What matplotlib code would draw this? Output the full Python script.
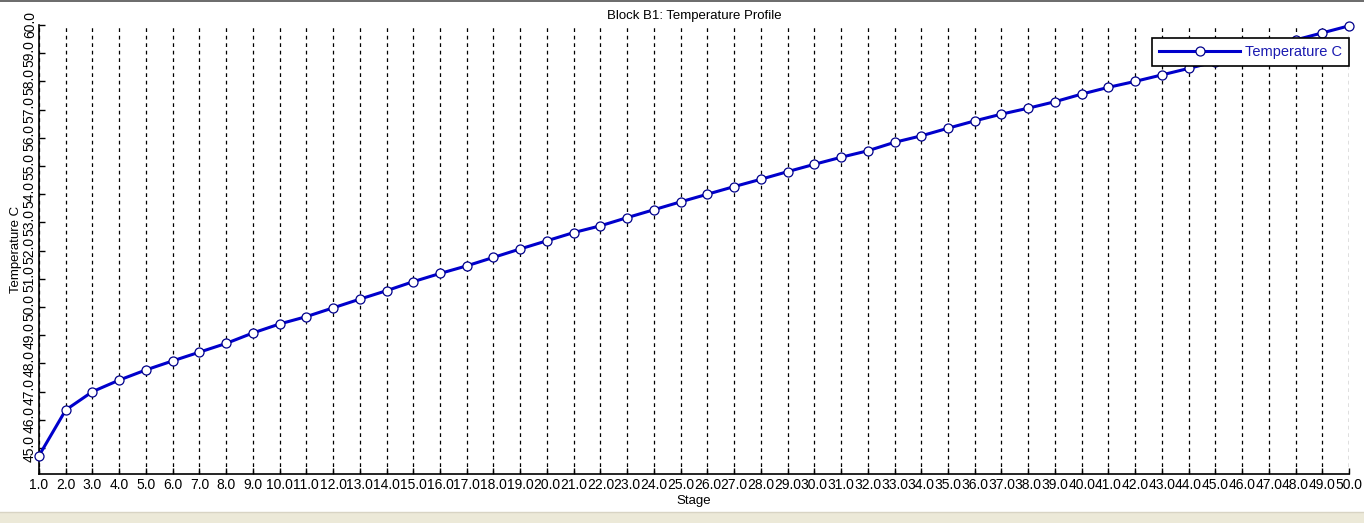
import matplotlib
matplotlib.use("Agg")
import matplotlib.pyplot as plt
from matplotlib.patches import Rectangle
from matplotlib.lines import Line2D

stages = list(range(1, 51))
temperature = [
    44.73, 46.35, 47.00, 47.41, 47.77, 48.09, 48.40, 48.71, 49.08, 49.40,
    49.66, 49.97, 50.28, 50.58, 50.90, 51.19, 51.46, 51.76, 52.06, 52.35,
    52.64, 52.88, 53.17, 53.45, 53.73, 54.00, 54.27, 54.53, 54.80, 55.06,
    55.31, 55.54, 55.84, 56.07, 56.34, 56.60, 56.84, 57.05, 57.28, 57.55,
    57.79, 58.00, 58.23, 58.46, 58.70, 58.95, 59.22, 59.47, 59.72, 59.97,
]
x_ticks = list(range(1, 51))
x_tick_labels = [f"{v:.1f}" for v in x_ticks]
y_ticks = list(range(45, 61))
y_tick_labels = [f"{v:.1f}" for v in y_ticks]
title = "Block B1: Temperature Profile"
xlabel = "Stage"
ylabel = "Temperature C"
series_name = "Temperature C"

plt.rcParams['font.family'] = ['Liberation Sans', 'DejaVu Sans']

W, H = 1364, 523
fig = plt.figure(figsize=(W / 100, H / 100), dpi=100)
fig.patch.set_facecolor("white")

# window chrome: top border and bottom strip
fig.add_artist(Rectangle((0, (H - 2) / H), 1, 2 / H, transform=fig.transFigure,
                         facecolor="#6e6e6e", edgecolor="none"))
fig.add_artist(Rectangle((0, 0), 1, 11 / H, transform=fig.transFigure,
                         facecolor="#ECE9D8", edgecolor="none"))
fig.add_artist(Line2D([0, 1], [11 / H, 11 / H], transform=fig.transFigure,
                      color="#d8d4c4", lw=1))

left, right, top, bottom = 39, 1349, 25, 474
ax = fig.add_axes([left / W, (H - bottom) / H, (right - left) / W, (bottom - top) / H])
ax.set_facecolor("white")

ax.plot(stages, temperature, color="#0000CC", lw=2.2, marker="o", ms=6.5,
        mfc="white", mec="#00008B", mew=0.9, label=series_name, zorder=3,
        clip_on=False)

ax.set_xlim(1, 50)
ax.set_ylim(44.08, 60)
ax.set_xticks(x_ticks)
ax.set_xticklabels(x_tick_labels, fontsize=10)
ax.set_yticks(y_ticks)
ax.set_yticklabels(y_tick_labels, fontsize=10, rotation=90, va="center")
ax.tick_params(direction="in", length=4, width=1, pad=3, colors="black")
ax.tick_params(axis="y", pad=1.5)

ax.grid(axis="x", color="black", linestyle=(0, (3, 3)), lw=0.9)
ax.grid(axis="y", visible=False)

for s in ["top", "right"]:
    ax.spines[s].set_visible(False)
for s in ["left", "bottom"]:
    ax.spines[s].set_linewidth(1.2)
    ax.spines[s].set_color("black")

ax.set_title(title, fontsize=9.5, pad=4)
ax.set_xlabel(xlabel, fontsize=9.5, labelpad=2)
ax.set_ylabel(ylabel, fontsize=9.5)
ax.yaxis.set_label_coords((22 - left) / (right - left), 0.5)

leg = ax.legend(loc="upper right", bbox_to_anchor=(1.0, 0.97), fontsize=10.5,
                frameon=True, fancybox=False, handlelength=5.6, borderpad=0.45,
                handletextpad=0.35, borderaxespad=0, framealpha=1)
leg.get_frame().set_edgecolor("black")
leg.get_frame().set_linewidth(1.2)
for t in leg.get_texts():
    t.set_color("#1a1aB0")

fig.savefig("out.png", dpi=100)
